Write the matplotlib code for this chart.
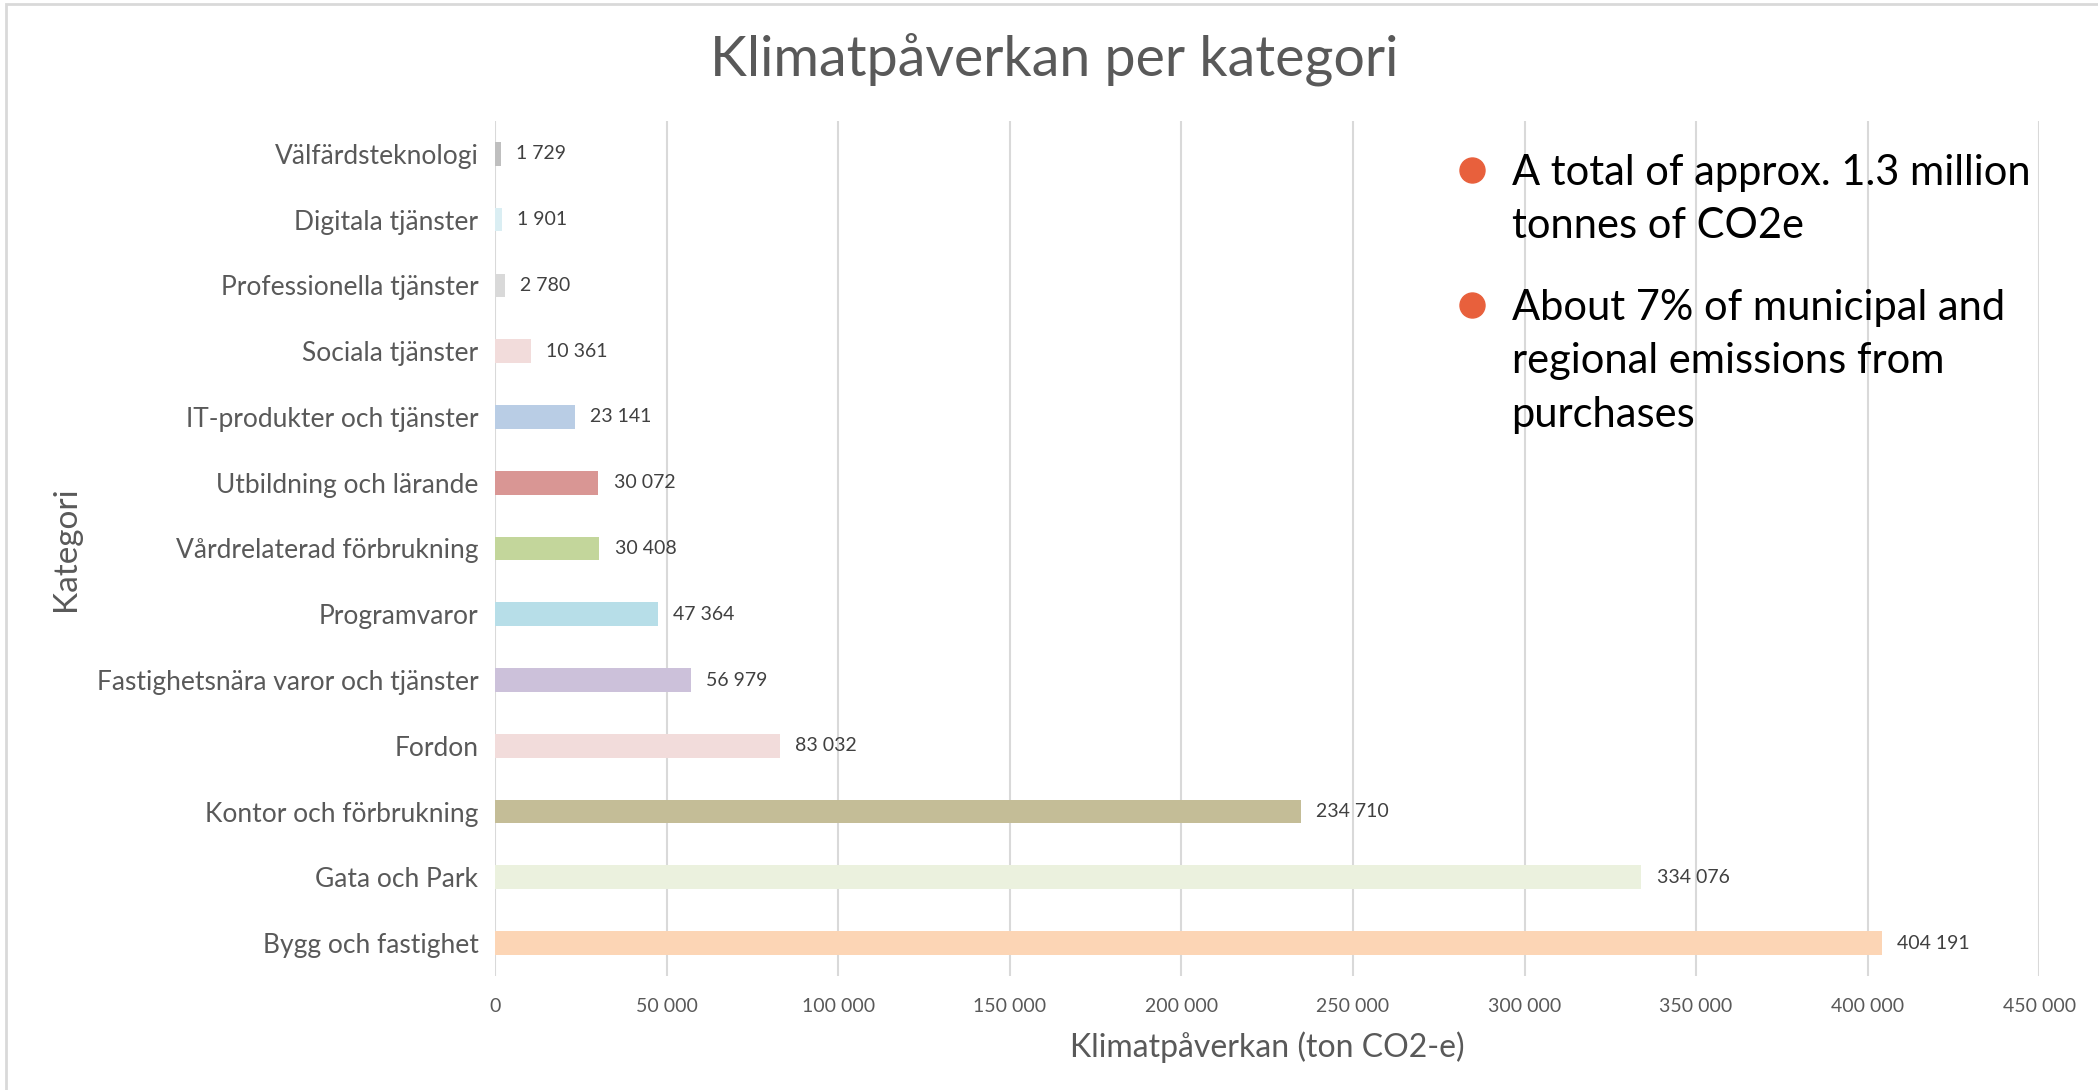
import numpy as np
import matplotlib
matplotlib.use("Agg")
import matplotlib.pyplot as plt
from matplotlib.patches import Rectangle
from matplotlib.lines import Line2D
from matplotlib.ticker import FuncFormatter, MultipleLocator

# Data -------------------------------------------------------------------------
categories = [
    "Bygg och fastighet",
    "Gata och Park",
    "Kontor och förbrukning",
    "Fordon",
    "Fastighetsnära varor och tjänster",
    "Programvaror",
    "Vårdrelaterad förbrukning",
    "Utbildning och lärande",
    "IT-produkter och tjänster",
    "Sociala tjänster",
    "Professionella tjänster",
    "Digitala tjänster",
    "Välfärdsteknologi",
]
values = [404191, 334076, 234710, 83032, 56979, 47364, 30408, 30072,
          23141, 10361, 2780, 1901, 1729]
colors = ["#FCD5B5", "#EBF1DE", "#C4BD97", "#F2DCDB", "#CCC1DA", "#B7DEE8",
          "#C3D69B", "#D99694", "#B9CDE5", "#F2DCDB", "#D9D9D9", "#DAEEF3",
          "#BFBFBF"]
notes = [["A total of approx. 1.3 million", "tonnes of CO2e"],
         ["About 7% of municipal and", "regional emissions from", "purchases"]]

plt.rcParams['font.family'] = ['Lato', 'DejaVu Sans']
GREY = "#595959"


def spaced(v, pos=None):
    return f"{int(v):,}".replace(",", " ")


fig = plt.figure(figsize=(20.98, 10.90), dpi=100)
ax = fig.add_axes([0.236, 0.1046, 0.736, 0.7844])

y = np.arange(len(categories))
bars = ax.barh(y, values, height=0.36, color=colors, zorder=3)

for b, v in zip(bars, values):
    ax.annotate(spaced(v), (b.get_width(), b.get_y() + b.get_height() / 2),
                xytext=(11, 0), textcoords="offset points", va="center",
                ha="left", fontsize=14, color="#404040")

ax.set_xlim(0, 450000)
ax.set_ylim(-0.5, len(categories) - 0.5)
ax.xaxis.set_major_locator(MultipleLocator(50000))
ax.xaxis.set_major_formatter(FuncFormatter(spaced))
ax.set_yticks(y)
ax.set_yticklabels(categories)
ax.tick_params(axis="both", length=0, colors=GREY)
ax.tick_params(axis="x", labelsize=14, pad=16)
ax.tick_params(axis="y", labelsize=19, pad=12)
ax.grid(axis="x", color="#D9D9D9", linewidth=1.5, zorder=0)
for s in ax.spines.values():
    s.set_visible(False)

ax.set_xlabel("Klimatpåverkan (ton CO2-e)", fontsize=23, color=GREY,
              labelpad=12)
ax.set_ylabel("Kategori", fontsize=24, color=GREY)
ax.yaxis.set_label_coords(-0.268, 0.5)
fig.text(0.5025, 0.946, "Klimatpåverkan per kategori", ha="center",
         va="center", fontsize=40, color=GREY)

# bullet notes
baselines = [[0.8303, 0.7817], [0.7064, 0.6578, 0.6083]]
for lines, ys in zip(notes, baselines):
    fig.add_artist(Line2D([0.7016], [ys[0] + 0.014], marker="o",
                          markersize=18, color="#E8603C", linestyle="none",
                          transform=fig.transFigure))
    for line, ty in zip(lines, ys):
        fig.text(0.7205, ty, line, fontsize=30, color="black",
                 ha="left", va="baseline")

# chart frame
fig.patches.append(Rectangle((0.003, -0.01), 1.2, 1.006,
                             transform=fig.transFigure, fill=False,
                             edgecolor="#D9D9D9", linewidth=2))

fig.savefig("out.png", dpi=100)
